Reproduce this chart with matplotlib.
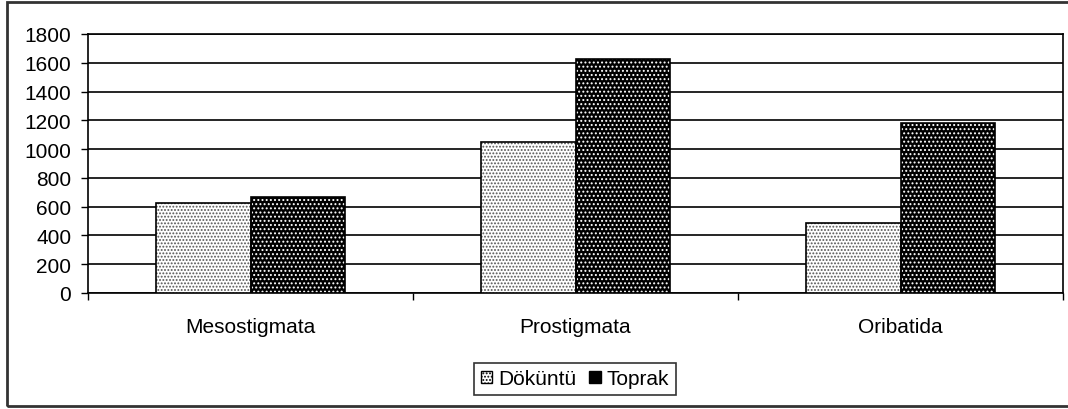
import matplotlib.pyplot as plt
import numpy as np
from matplotlib.patches import Rectangle, Patch

plt.rcParams['font.family'] = ['Liberation Sans', 'DejaVu Sans']
plt.rcParams['hatch.linewidth'] = 0.9

categories = ['Mesostigmata', 'Prostigmata', 'Oribatida']
dokuntu = [625, 1050, 485]
toprak = [665, 1625, 1180]
series_names = ['Döküntü', 'Toprak']
y_ticks = [0, 200, 400, 600, 800, 1000, 1200, 1400, 1600, 1800]

fig = plt.figure(figsize=(10.68, 4.10), dpi=100)
ax = fig.add_axes([88 / 1068, 1 - 294 / 410, 975 / 1068, 259 / 410])

x = np.arange(len(categories))
w = 0.29

# fill + hatch, then outline on top
ax.bar(x - w / 2, dokuntu, w, color='white', edgecolor='#555555', hatch='.....',
       linewidth=0, zorder=3)
ax.bar(x + w / 2, toprak, w, color='black', edgecolor='white', hatch='....',
       linewidth=0, zorder=3)
ax.bar(x - w / 2, dokuntu, w, fill=False, edgecolor='black', linewidth=1.2, zorder=4)
ax.bar(x + w / 2, toprak, w, fill=False, edgecolor='black', linewidth=1.2, zorder=4)

ax.set_xlim(-0.5, len(categories) - 0.5)
ax.set_ylim(0, 1800)
ax.set_yticks(y_ticks)
ax.yaxis.grid(True, color='black', linewidth=1.2, zorder=0)
ax.set_axisbelow(True)
ax.tick_params(axis='y', direction='out', length=5, width=1, pad=7, labelsize=15)

ax.set_xticks(x)
ax.set_xticklabels(categories, fontsize=15)
ax.set_xticks(np.arange(len(categories) + 1) - 0.5, minor=True)
ax.tick_params(axis='x', which='major', length=0, pad=17)
ax.tick_params(axis='x', which='minor', direction='out', length=5, width=1)

for s in ax.spines.values():
    s.set_color('black')
    s.set_linewidth(1.2)

# legend
handles = [Patch(facecolor='white', edgecolor='black', hatch='.....'),
           Patch(facecolor='black', edgecolor='black')]
leg = fig.legend(handles, series_names, loc='center', bbox_to_anchor=(575 / 1068, 1 - 380 / 410),
                 ncols=2, fontsize=15, frameon=True, fancybox=False, handlelength=0.55,
                 handleheight=0.55, handletextpad=0.3, columnspacing=0.6, borderpad=0.3,
                 edgecolor='black')
leg.get_frame().set_linewidth(1.2)

fig.patches.append(Rectangle((7 / 1068, 3 / 410), 1.2, 404 / 410, transform=fig.transFigure,
                             fill=False, edgecolor='#333333', linewidth=2))

fig.savefig('out.png', dpi=100)
